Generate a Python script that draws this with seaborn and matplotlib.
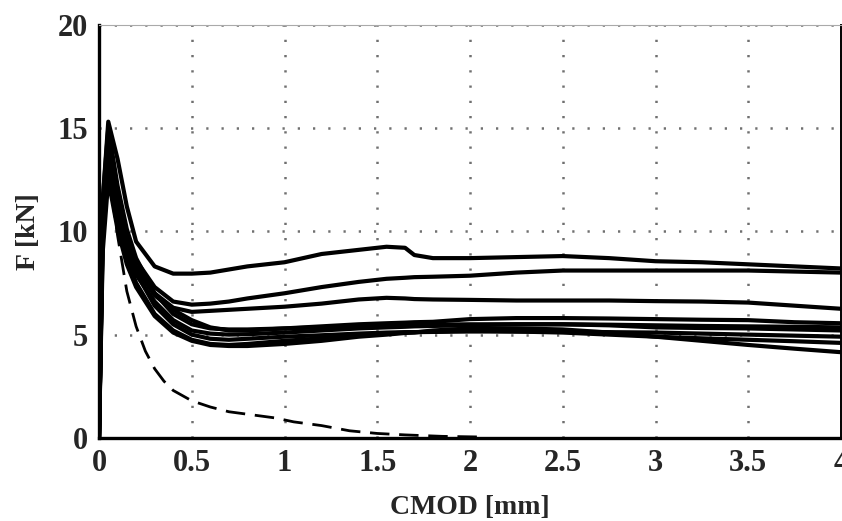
import matplotlib
matplotlib.use("Agg")
import matplotlib.pyplot as plt
import seaborn as sns
import pandas as pd

# ---------------- data ----------------
cmod = [0.0, 0.02, 0.05, 0.1, 0.15, 0.2, 0.3, 0.4, 0.5, 0.6, 0.7, 0.8, 1.0, 1.2,
        1.4, 1.55, 1.65, 1.7, 1.8, 2.0, 2.25, 2.5, 2.75, 3.0, 3.25, 3.5, 3.75, 4.0]

curve_a = [0, 11.5, 15.3, 13.5, 11.2, 9.5, 8.3, 7.95, 7.95, 8.0, 8.15, 8.3, 8.5, 8.9,
           9.1, 9.25, 9.2, 8.85, 8.7, 8.7, 8.75, 8.8, 8.7, 8.55, 8.5, 8.4, 8.3, 8.2]
curve_b = [0, 11.0, 14.5, 12.0, 9.9, 8.6, 7.3, 6.6, 6.45, 6.5, 6.6, 6.75, 7.0, 7.3,
           7.55, 7.7, 7.75, 7.78, 7.8, 7.85, 8.0, 8.1, 8.1, 8.1, 8.1, 8.1, 8.05, 8.0]
curve_c = [0, 10.5, 14.0, 11.5, 9.5, 8.3, 7.0, 6.3, 6.1, 6.15, 6.2, 6.25, 6.35, 6.5,
           6.7, 6.78, 6.75, 6.72, 6.7, 6.68, 6.65, 6.65, 6.65, 6.62, 6.6, 6.55, 6.4, 6.25]
curve_d = [0, 10.0, 13.5, 11.2, 9.4, 8.2, 6.9, 6.2, 5.7, 5.35, 5.2, 5.2, 5.3, 5.4,
           5.5, 5.55, 5.58, 5.6, 5.62, 5.75, 5.8, 5.8, 5.78, 5.75, 5.72, 5.7, 5.6, 5.55]
curve_e = [0, 11.5, 15.0, 12.2, 10.1, 8.7, 7.0, 6.0, 5.5, 5.3, 5.25, 5.25, 5.3, 5.35,
           5.4, 5.45, 5.45, 5.47, 5.48, 5.5, 5.5, 5.5, 5.48, 5.45, 5.42, 5.4, 5.38, 5.35]
curve_f = [0, 10.5, 14.2, 11.4, 9.3, 8.0, 6.4, 5.5, 5.0, 4.8, 4.75, 4.8, 4.9, 4.97,
           5.05, 5.1, 5.12, 5.12, 5.13, 5.15, 5.15, 5.15, 5.12, 5.1, 5.05, 5.0, 4.95, 4.9]
curve_g = [0, 9.5, 13.0, 10.5, 8.7, 7.5, 6.0, 5.2, 4.75, 4.55, 4.5, 4.55, 4.7, 4.82,
           4.95, 5.05, 5.1, 5.12, 5.15, 5.2, 5.15, 5.1, 5.0, 4.9, 4.82, 4.75, 4.68, 4.6]
curve_h = [0, 9.0, 12.5, 10.1, 8.4, 7.3, 5.9, 5.1, 4.7, 4.5, 4.45, 4.45, 4.55, 4.7,
           4.9, 5.0, 5.08, 5.1, 5.2, 5.3, 5.3, 5.25, 5.1, 4.9, 4.7, 4.5, 4.32, 4.15]
curve_i = [0, 10.2, 13.8, 11.2, 9.1, 7.9, 6.6, 5.7, 5.2, 5.05, 5.0, 5.02, 5.1, 5.2,
           5.3, 5.35, 5.38, 5.4, 5.42, 5.45, 5.5, 5.5, 5.45, 5.35, 5.32, 5.3, 5.25, 5.2]

dashed_x = [0.05, 0.1, 0.15, 0.2, 0.25, 0.3, 0.35, 0.4, 0.5, 0.6, 0.7, 0.8, 0.95,
            1.05, 1.2, 1.35, 1.5, 1.65, 1.85, 2.05]
dashed_y = [13.0, 9.8, 7.1, 5.4, 4.2, 3.35, 2.75, 2.3, 1.8, 1.5, 1.27, 1.15, 0.97,
            0.78, 0.6, 0.35, 0.22, 0.15, 0.08, 0.05]

x_ticks = [0, 0.5, 1, 1.5, 2, 2.5, 3, 3.5, 4]
x_tick_labels = ["0", "0.5", "1", "1.5", "2", "2.5", "3", "3.5", "4"]
y_ticks = [0, 5, 10, 15, 20]
y_tick_labels = ["0", "5", "10", "15", "20"]

# ---------------- figure ----------------
sns.set_style("white")
plt.rcParams["font.family"] = ["Liberation Serif", "DejaVu Serif"]
plt.rcParams["font.weight"] = "bold"

fig = plt.figure(figsize=(8.42, 5.21), dpi=100)
ax = fig.add_axes([99 / 842, 1 - 438 / 521, (841 - 99) / 842, (438 - 24.5) / 521])

curves = {"A": curve_a, "B": curve_b, "C": curve_c, "D": curve_d, "E": curve_e,
          "F": curve_f, "G": curve_g, "H": curve_h, "I": curve_i}
rows = []
for name, vals in curves.items():
    for xv, yv in zip(cmod, vals):
        rows.append({"curve": name, "CMOD": xv, "F": yv})
df = pd.DataFrame(rows)

sns.lineplot(data=df, x="CMOD", y="F", units="curve", estimator=None, sort=False,
             color="black", lw=3.0, ax=ax, legend=False)
sns.lineplot(x=dashed_x, y=dashed_y, color="black", lw=2.0, ax=ax,
             estimator=None, sort=False, linestyle=(0, (7, 3.5)))

ax.set_xlim(0, 4)
ax.set_ylim(0, 20)
ax.set_xticks(x_ticks)
ax.set_xticklabels(x_tick_labels)
ax.set_yticks(y_ticks)
ax.set_yticklabels(y_tick_labels)
ax.grid(True, color="#707070", linestyle=(0, (0.9, 5.2)), lw=1.8)
ax.set_axisbelow(True)
ax.tick_params(length=0, pad=8, labelsize=22)
for lab in ax.get_xticklabels() + ax.get_yticklabels():
    lab.set_fontweight("bold")

ax.set_xlabel("CMOD [mm]", fontsize=20, fontweight="bold", labelpad=12)
ax.set_ylabel("F [kN]", fontsize=20, fontweight="bold", labelpad=12)

for side in ("left", "bottom"):
    ax.spines[side].set_color("black")
    ax.spines[side].set_linewidth(2.4)
ax.spines["right"].set_color("black")
ax.spines["right"].set_linewidth(1.4)
ax.spines["top"].set_color("#aaaaaa")
ax.spines["top"].set_linewidth(0.8)

fig.savefig("out.png", dpi=100)
